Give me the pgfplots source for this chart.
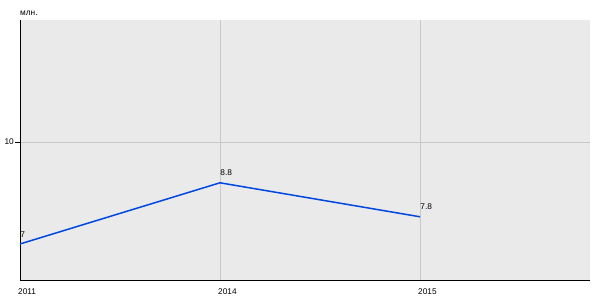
\documentclass[border=0pt]{standalone}
\usepackage{pgfplots}
\pgfplotsset{compat=1.18}
\usepackage{fontspec}
\setmainfont{Liberation Sans}
\definecolor{bgc}{HTML}{EAEAEA}
\definecolor{gridc}{HTML}{C8C8C8}
\definecolor{linec}{HTML}{0047E0}
\begin{document}
\begin{tikzpicture}[x=1pt,y=1pt]
\useasboundingbox (-20,-20) rectangle (580,280);
\begin{axis}[
  at={(0,0)}, anchor=origin,
  scale only axis, width=570pt, height=260pt,
  xmin=0, xmax=2.85, ymin=5.94, ymax=13.59,
  axis lines*=left,
  axis line style={black, line width=0.8pt, -},
  axis background/.style={fill=bgc},
  xtick={0,1,2}, xticklabels={2011,2014,2015},
  ytick={10},
  xmajorgrids, ymajorgrids,
  grid style={gridc, line width=0.6pt},
  x tick label style={anchor=north west, inner sep=0pt, yshift=-4pt, xshift=-2pt},
  y tick label style={anchor=east, inner sep=0pt, xshift=-1pt},
  xtick style={draw=none},
  ytick style={black, line width=0.6pt},
  tick align=outside, major tick length=5pt,
  tick label style={font=\fontsize{8.3}{9}\selectfont},
  /pgf/number format/assume math mode=true,
  clip=false,
]
\addplot[linec, line width=1.5pt,
  nodes near coords,
  every node near coord/.style={font=\fontsize{8.3}{9}\selectfont, anchor=south west, inner sep=0pt, yshift=6pt, xshift=-0.3pt, black},
] coordinates {(0,7) (1,8.8) (2,7.8)};
\node[anchor=south west, inner sep=0pt, font=\fontsize{8.3}{9}\selectfont] at (rel axis cs:0,1) [yshift=4pt] {млн.};
\end{axis}
\end{tikzpicture}
\end{document}
